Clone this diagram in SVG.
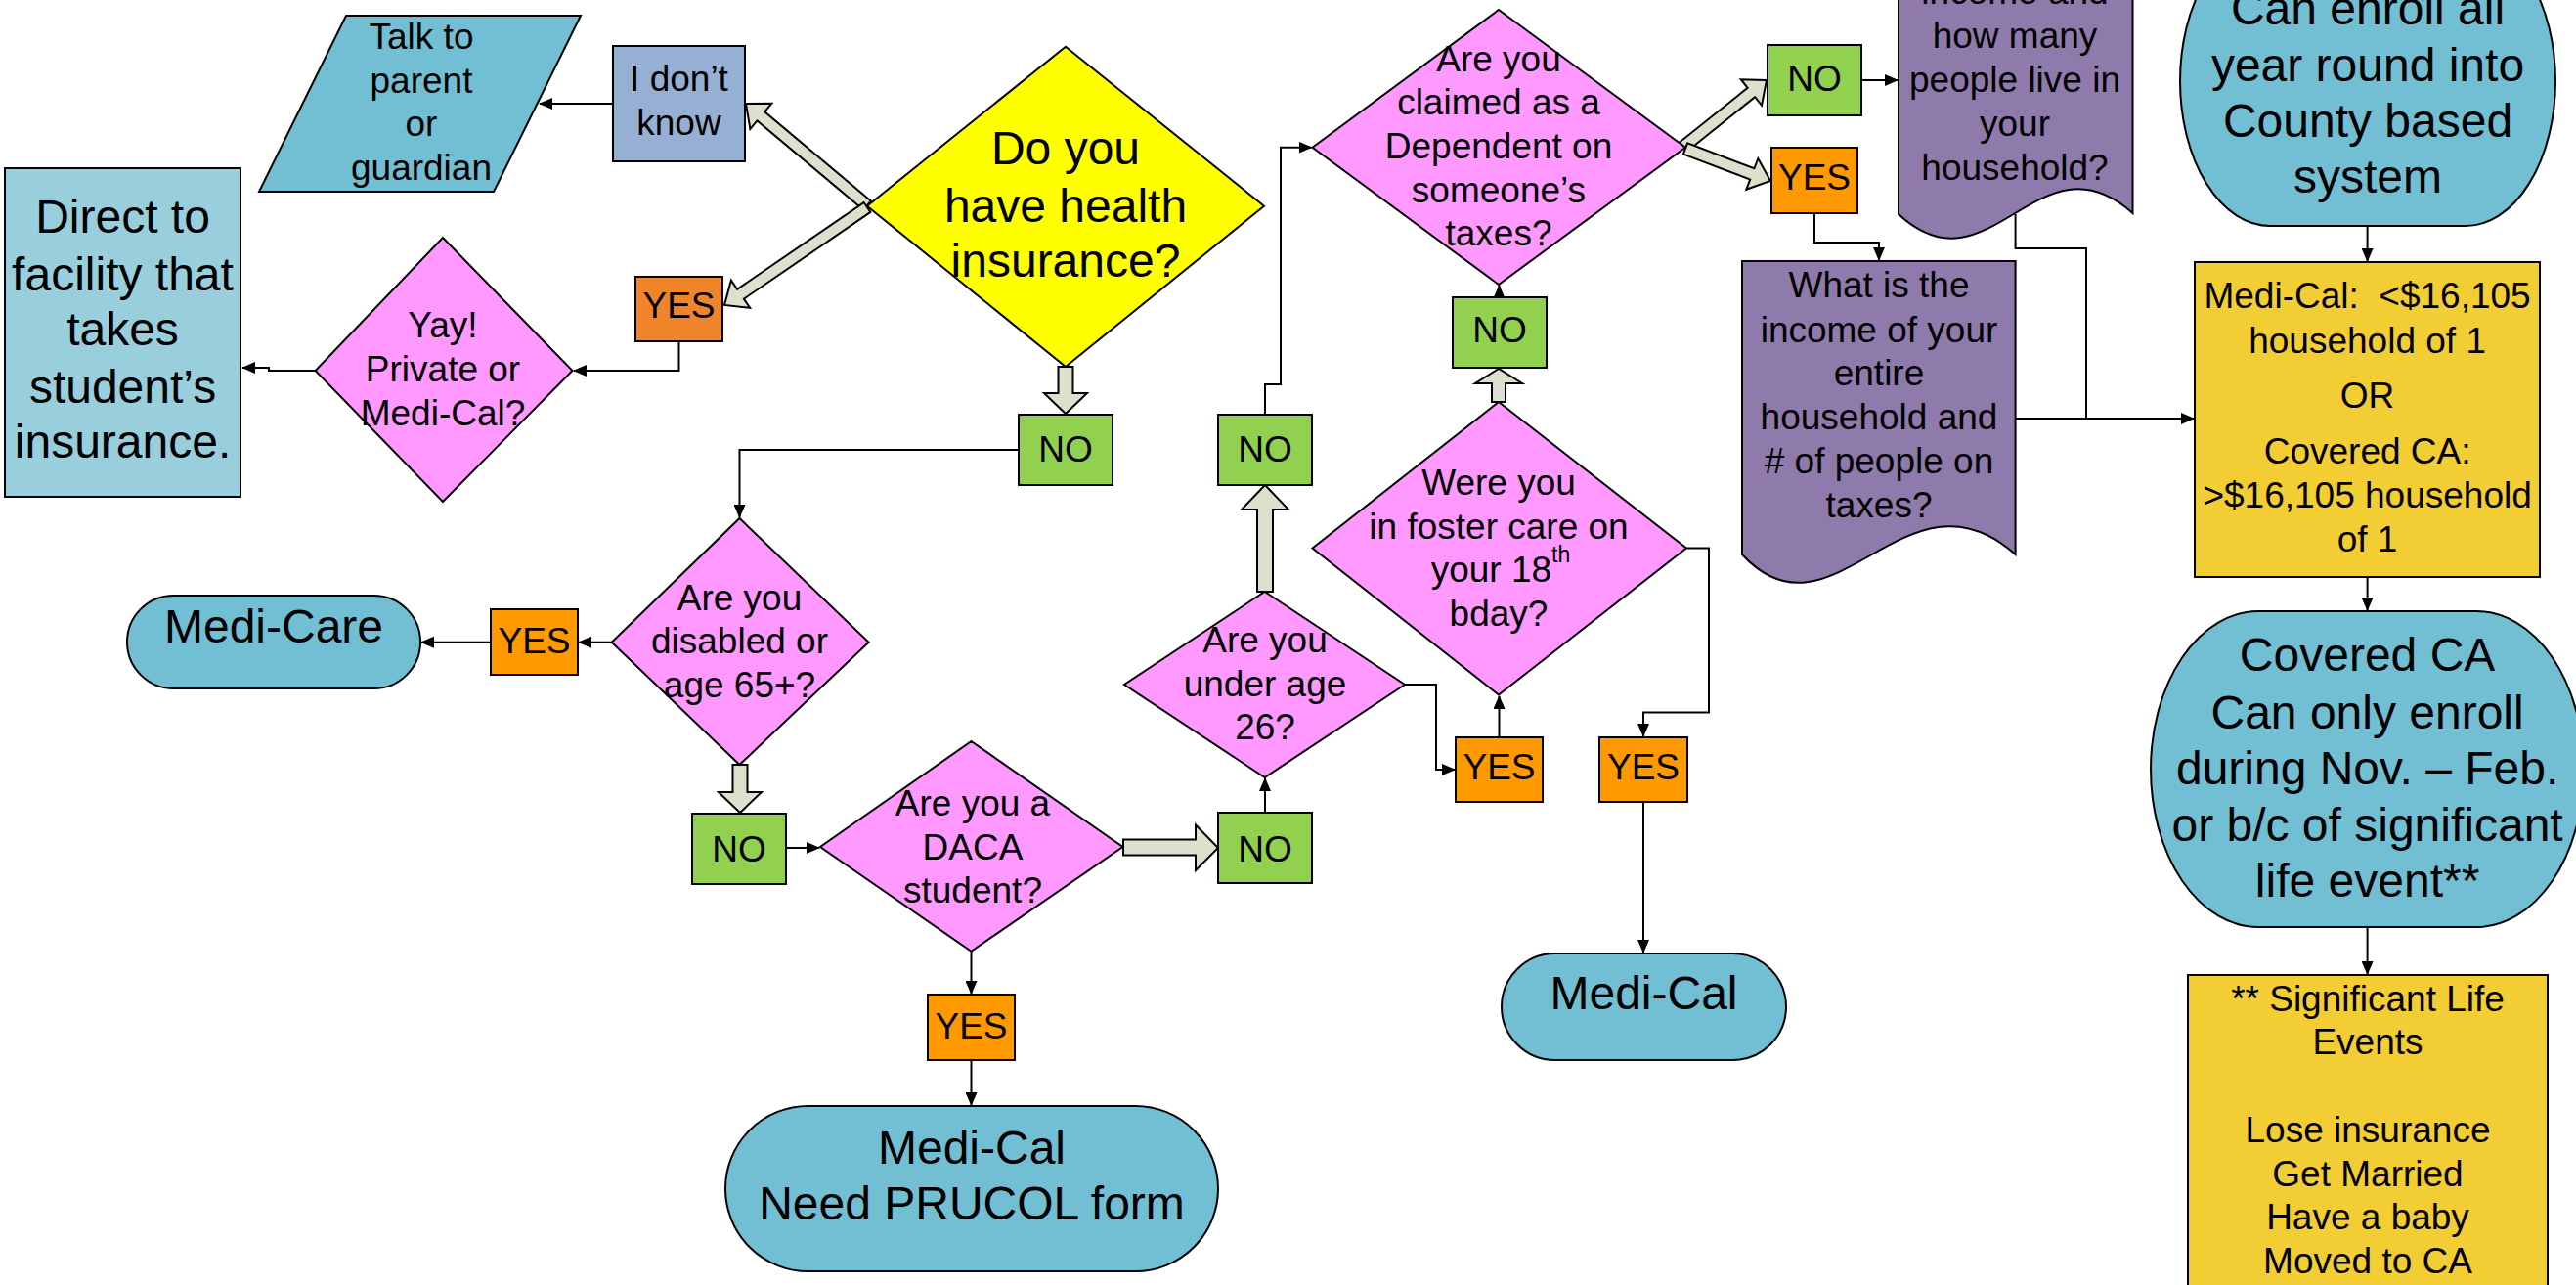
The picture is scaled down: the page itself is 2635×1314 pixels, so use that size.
<svg xmlns="http://www.w3.org/2000/svg" width="2635" height="1314" viewBox="0 0 2635 1314">
<style>
text{font-family:"Liberation Sans",Arial,sans-serif;fill:#000;text-anchor:middle}
.s{font-size:37px}
.b{font-size:48px}
.sh{stroke:#000;stroke-width:2}
.pink{fill:#FF99FF}
.blue{fill:#72BED3}
.no{fill:#92D050}
.yes{fill:#FF9900}
.purple{fill:#8F7AAC}
.gold{fill:#F2CD33}
.blk{fill:#DDE0CC;stroke:#000;stroke-width:2;stroke-linejoin:miter}
.ln{fill:none;stroke:#000;stroke-width:2}
</style>
<defs>
<marker id="ah" markerUnits="userSpaceOnUse" markerWidth="14" markerHeight="12" refX="13" refY="6" orient="auto">
<path d="M0,0 L14,6 L0,12 z" fill="#000"/>
</marker>
</defs>
<rect width="2635" height="1314" fill="#fff"/>

<g id="connectors">
<path class="ln" d="M627,106 H552" marker-end="url(#ah)"/>
<path class="ln" d="M694.5,349 V379 H587" marker-end="url(#ah)"/>
<path class="ln" d="M322.6,379 H275 V376 H248" marker-end="url(#ah)"/>
<path class="ln" d="M1042,460 H756.5 V529" marker-end="url(#ah)"/>
<path class="ln" d="M625.7,656.7 H592" marker-end="url(#ah)"/>
<path class="ln" d="M502,656.7 H431" marker-end="url(#ah)"/>
<path class="ln" d="M804,867 H838" marker-end="url(#ah)"/>
<path class="ln" d="M993.5,972.7 V1016" marker-end="url(#ah)"/>
<path class="ln" d="M993.5,1084 V1130" marker-end="url(#ah)"/>
<path class="ln" d="M1294,831 V796" marker-end="url(#ah)"/>
<path class="ln" d="M1294,424 V393 H1310 V150.7 H1341.5" marker-end="url(#ah)"/>
<path class="ln" d="M1533.5,304 V292" marker-end="url(#ah)"/>
<path class="ln" d="M1437,700 H1469 V787 H1488" marker-end="url(#ah)"/>
<path class="ln" d="M1533.5,754 V712" marker-end="url(#ah)"/>
<path class="ln" d="M1725,560.5 H1748 V728.5 H1681 V753" marker-end="url(#ah)"/>
<path class="ln" d="M1681,820 V974" marker-end="url(#ah)"/>
<path class="ln" d="M1904,82 H1941" marker-end="url(#ah)"/>
<path class="ln" d="M1856,217.5 V248 H1922 V266" marker-end="url(#ah)"/>
<path class="ln" d="M2061.6,219 V254 H2134 V428"/>
<path class="ln" d="M2061.6,428 H2244" marker-end="url(#ah)"/>
<path class="ln" d="M2421.6,231 V267" marker-end="url(#ah)"/>
<path class="ln" d="M2421.6,590 V624" marker-end="url(#ah)"/>
<path class="ln" d="M2421.6,948 V996" marker-end="url(#ah)"/>
<polygon class="blk" points="890.86,205.40 782.19,114.26 789.26,105.83 763,106 767.40,131.89 774.47,123.46 883.14,214.60"/>
<polygon class="blk" points="883.61,207.05 754.11,295.75 747.89,286.67 741,312 767.11,314.73 760.89,305.65 890.39,216.95"/>
<polygon class="blk" points="1725.75,154.69 1795.13,99.18 1802.00,107.77 1807,82 1780.76,81.21 1787.63,89.81 1718.25,145.32"/>
<polygon class="blk" points="1721.87,157.61 1790.17,183.52 1786.27,193.81 1811,185 1798.33,162.02 1794.43,172.30 1726.13,146.39"/>
<polygon class="blk" points="1097.5,375 1097.5,402 1112,402 1090,423 1068,402 1082.5,402 1082.5,375"/>
<polygon class="blk" points="764.5,782 764.5,810 779,810 757,831 735,810 749.5,810 749.5,782"/>
<polygon class="blk" points="1149,858.5 1223,858.5 1223,843.5 1246,867 1223,890 1223,874.5 1149,874.5"/>
<polygon class="blk" points="1302,605 1302,521 1318,521 1294,496 1270,521 1286,521 1286,605"/>
<polygon class="blk" points="1540,411 1540,392 1557,392 1533,377 1509,392 1526,392 1526,411"/>
</g>

<g id="talk-to-parent">
<polygon class="sh blue" points="354,16 594,16 505,196 265,196"/>
<text class="s" x="431" y="50">Talk to</text>
<text class="s" x="431" y="95">parent</text>
<text class="s" x="431" y="139">or</text>
<text class="s" x="431" y="184">guardian</text>
</g>

<g id="i-dont-know">
<rect class="sh" x="627" y="47" width="135" height="118" fill="#95B0D3"/>
<text class="s" x="694.5" y="93">I don’t</text>
<text class="s" x="694.5" y="138">know</text>
</g>

<g id="direct-to-facility">
<rect class="sh" x="5" y="172" width="241" height="336" fill="#99CEDC"/>
<text class="b" x="125.5" y="238">Direct to</text>
<text class="b" x="125.5" y="297">facility that</text>
<text class="b" x="125.5" y="353">takes</text>
<text class="b" x="125.5" y="412">student’s</text>
<text class="b" x="125.5" y="468">insurance.</text>
</g>

<g id="yes-insured">
<rect class="sh" x="650" y="283" width="89" height="66" fill="#F0842A"/>
<text class="s" x="694.5" y="325">YES</text>
</g>

<g id="yay-private">
<polygon class="sh pink" points="453,243 585.5,379 453,513 322.6,379"/>
<text class="s" x="453" y="345">Yay!</text>
<text class="s" x="453" y="390">Private or</text>
<text class="s" x="453" y="435">Medi-Cal?</text>
</g>

<g id="health-insurance">
<polygon class="sh" fill="#FFFF00" points="1090,47.7 1293,210.7 1090,375 887,210.7"/>
<text class="b" x="1090" y="168">Do you</text>
<text class="b" x="1090" y="227">have health</text>
<text class="b" x="1090" y="283">insurance?</text>
</g>

<g id="no-insurance">
<rect class="sh no" x="1042" y="424" width="96" height="72"/>
<text class="s" x="1090" y="472">NO</text>
</g>

<g id="disabled">
<polygon class="sh pink" points="756.5,530 888.6,656.7 756.5,782 625.7,656.7"/>
<text class="s" x="756.5" y="624">Are you</text>
<text class="s" x="756.5" y="668">disabled or</text>
<text class="s" x="756.5" y="713">age 65+?</text>
</g>

<g id="yes-disabled">
<rect class="sh yes" x="502" y="623" width="89" height="67"/>
<text class="s" x="546.5" y="668">YES</text>
</g>

<g id="medi-care">
<rect class="sh blue" x="130" y="609" width="300" height="95" rx="47.5" ry="47.5"/>
<text class="b" x="280" y="657">Medi-Care</text>
</g>

<g id="no-disabled">
<rect class="sh no" x="708" y="832" width="96" height="72"/>
<text class="s" x="756" y="881">NO</text>
</g>

<g id="daca">
<polygon class="sh pink" points="993.5,758 1148.5,866 993.5,972.7 839,866"/>
<text class="s" x="995" y="834">Are you a</text>
<text class="s" x="995" y="879">DACA</text>
<text class="s" x="995" y="923">student?</text>
</g>

<g id="yes-daca">
<rect class="sh yes" x="949" y="1017" width="89" height="67"/>
<text class="s" x="993.5" y="1062">YES</text>
</g>

<g id="medi-cal-prucol">
<rect class="sh blue" x="742" y="1131" width="504" height="169" rx="84.5" ry="84.5"/>
<text class="b" x="994" y="1190">Medi-Cal</text>
<text class="b" x="994" y="1247">Need PRUCOL form</text>
</g>

<g id="no-daca">
<rect class="sh no" x="1246" y="831" width="96" height="72"/>
<text class="s" x="1294" y="881">NO</text>
</g>

<g id="under-26">
<polygon class="sh pink" points="1293.7,605 1437,700 1293.7,795 1150,700"/>
<text class="s" x="1294" y="667">Are you</text>
<text class="s" x="1294" y="712">under age</text>
<text class="s" x="1294" y="756">26?</text>
</g>

<g id="no-under-26">
<rect class="sh no" x="1246" y="424" width="96" height="72"/>
<text class="s" x="1294" y="472">NO</text>
</g>

<g id="yes-under-26">
<rect class="sh yes" x="1489" y="754" width="89" height="66"/>
<text class="s" x="1533.5" y="797">YES</text>
</g>

<g id="foster-care">
<polygon class="sh pink" points="1533,411 1725,560.5 1533,710.6 1342.5,560.5"/>
<text class="s" x="1533" y="506">Were you</text>
<text class="s" x="1533" y="551">in foster care on</text>
<text class="s" x="1535" y="595">your 18<tspan font-size="23" dy="-20">th</tspan></text>
<text class="s" x="1533" y="640">bday?</text>
</g>

<g id="no-foster">
<rect class="sh no" x="1486" y="304" width="96" height="72"/>
<text class="s" x="1534" y="350">NO</text>
</g>

<g id="yes-foster">
<rect class="sh yes" x="1636" y="754" width="90" height="66"/>
<text class="s" x="1681" y="797">YES</text>
</g>

<g id="medi-cal">
<rect class="sh blue" x="1536" y="975" width="291" height="109" rx="54.5" ry="54.5"/>
<text class="b" x="1681.5" y="1032">Medi-Cal</text>
</g>

<g id="dependent">
<polygon class="sh pink" points="1533,10 1724,150.7 1533,291 1342.5,150.7"/>
<text class="s" x="1533" y="73">Are you</text>
<text class="s" x="1533" y="117">claimed as a</text>
<text class="s" x="1533" y="162">Dependent on</text>
<text class="s" x="1533" y="207">someone’s</text>
<text class="s" x="1533" y="251">taxes?</text>
</g>

<g id="no-dependent">
<rect class="sh no" x="1808" y="46" width="96" height="72"/>
<text class="s" x="1856" y="93">NO</text>
</g>

<g id="yes-dependent">
<rect class="sh yes" x="1812" y="151" width="88" height="67"/>
<text class="s" x="1856" y="194">YES</text>
</g>

<g id="income-own">
<path class="sh purple" d="M1942,-50 H2181.5 V218 C2085,132 2035,305 1942,219 Z"/>
<text class="s" x="2061" y="4">income and</text>
<text class="s" x="2061" y="49">how many</text>
<text class="s" x="2061" y="94">people live in</text>
<text class="s" x="2061" y="139">your</text>
<text class="s" x="2061" y="184">household?</text>
</g>

<g id="income-household">
<path class="sh purple" d="M1782,267 H2061.6 V567 C1950,467 1875,667 1782,567 Z"/>
<text class="s" x="1922" y="304">What is the</text>
<text class="s" x="1922" y="350">income of your</text>
<text class="s" x="1922" y="394">entire</text>
<text class="s" x="1922" y="439">household and</text>
<text class="s" x="1922" y="484"># of people on</text>
<text class="s" x="1922" y="529">taxes?</text>
</g>

<g id="county-system">
<rect class="sh blue" x="2230" y="-65" width="384" height="296" rx="92" ry="148"/>
<text class="b" x="2422" y="25">Can enroll all</text>
<text class="b" x="2422" y="83">year round into</text>
<text class="b" x="2422" y="140">County based</text>
<text class="b" x="2422" y="197">system</text>
</g>

<g id="income-limits">
<rect class="sh gold" x="2245" y="268" width="353" height="322"/>
<text class="s" x="2421.6" y="315">Medi-Cal:&#160; &lt;$16,105</text>
<text class="s" x="2421.6" y="361">household of 1</text>
<text class="s" x="2421.6" y="417">OR</text>
<text class="s" x="2421.6" y="474">Covered CA:</text>
<text class="s" x="2421.6" y="519">&gt;$16,105 household</text>
<text class="s" x="2421.6" y="564">of 1</text>
</g>

<g id="covered-ca">
<rect class="sh blue" x="2200" y="625" width="443" height="323" rx="110" ry="161.5"/>
<text class="b" x="2421.6" y="686">Covered CA</text>
<text class="b" x="2421.6" y="745">Can only enroll</text>
<text class="b" x="2421.6" y="802">during Nov. – Feb.</text>
<text class="b" x="2421.6" y="860">or b/c of significant</text>
<text class="b" x="2421.6" y="917">life event**</text>
</g>

<g id="life-events">
<rect class="sh gold" x="2238" y="997" width="368" height="330"/>
<text class="s" x="2422" y="1034">** Significant Life</text>
<text class="s" x="2422" y="1078">Events</text>
<text class="s" x="2422" y="1168">Lose insurance</text>
<text class="s" x="2422" y="1213">Get Married</text>
<text class="s" x="2422" y="1257">Have a baby</text>
<text class="s" x="2422" y="1302">Moved to CA</text>
</g>
</svg>
